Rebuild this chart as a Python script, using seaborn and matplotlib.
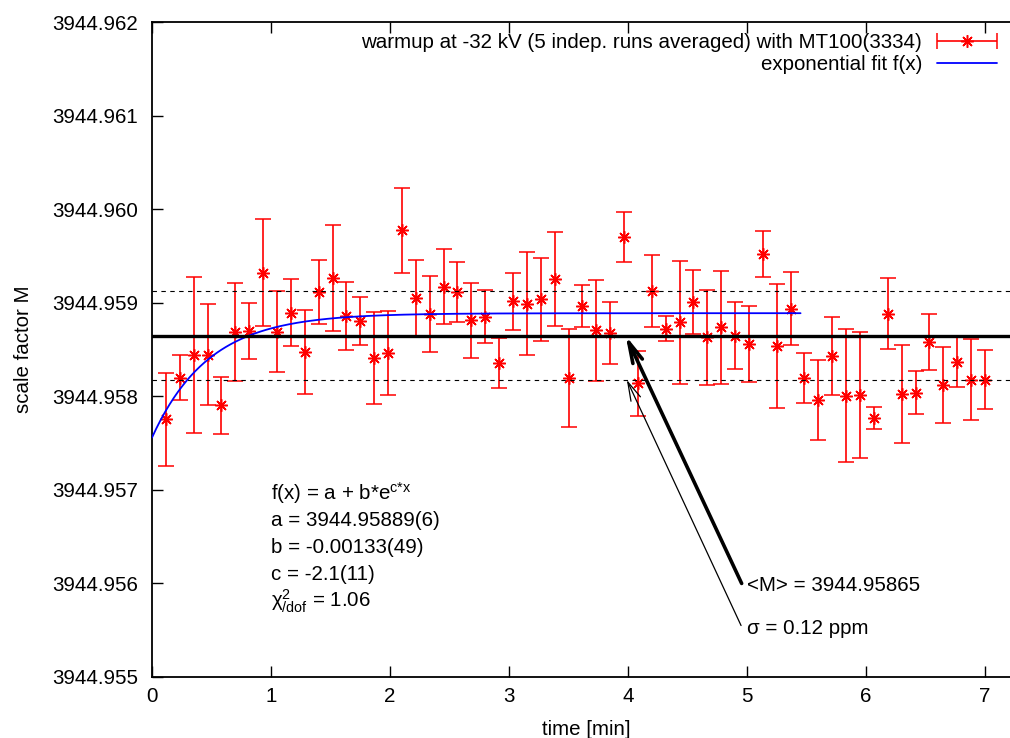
import numpy as np
import matplotlib
matplotlib.use("Agg")
import matplotlib.pyplot as plt
import seaborn as sns
from matplotlib.container import ErrorbarContainer
from matplotlib.legend_handler import HandlerErrorbar
from matplotlib.ticker import FormatStrFormatter, MultipleLocator

# measurement times [min], one point every 7 s
time_min = [0.117, 0.233, 0.350, 0.467, 0.583, 0.700, 0.817, 0.933, 1.050, 1.167,
            1.283, 1.400, 1.517, 1.633, 1.750, 1.867, 1.983, 2.100, 2.217, 2.333,
            2.450, 2.567, 2.683, 2.800, 2.917, 3.033, 3.150, 3.267, 3.383, 3.500,
            3.617, 3.733, 3.850, 3.967, 4.083, 4.200, 4.317, 4.433, 4.550, 4.667,
            4.783, 4.900, 5.017, 5.133, 5.250, 5.367, 5.483, 5.600, 5.717, 5.833,
            5.950, 6.067, 6.183, 6.300, 6.417, 6.533, 6.650, 6.767, 6.883, 7.000]

scale_M = [3944.957754, 3944.958200, 3944.958446, 3944.958446, 3944.957904,
           3944.958693, 3944.958700, 3944.959325, 3944.958693, 3944.958896,
           3944.958475, 3944.959118, 3944.959265, 3944.958861, 3944.958804,
           3944.958414, 3944.958464, 3944.959775, 3944.959051, 3944.958882,
           3944.959175, 3944.959118, 3944.958815, 3944.958853, 3944.958357,
           3944.959019, 3944.958993, 3944.959040, 3944.959254, 3944.958193,
           3944.958968, 3944.958708, 3944.958679, 3944.959708, 3944.958139,
           3944.959129, 3944.958725, 3944.958793, 3944.959008, 3944.958633,
           3944.958740, 3944.958650, 3944.958564, 3944.959522, 3944.958539,
           3944.958936, 3944.958200, 3944.957964, 3944.958432, 3944.958007,
           3944.958017, 3944.957768, 3944.958886, 3944.958025, 3944.958039,
           3944.958585, 3944.958121, 3944.958365, 3944.958178, 3944.958178]

# errors in units of 1e-6
err_M_micro = [493, 240, 832, 543, 305, 523, 295, 567, 436, 359,
               449, 346, 566, 364, 259, 491, 452, 454, 405, 405,
               400, 323, 400, 282, 263, 304, 550, 445, 504, 525,
               224, 540, 327, 268, 347, 386, 130, 659, 341, 507,
               602, 359, 406, 244, 658, 390, 268, 427, 422, 709,
               672, 116, 384, 523, 230, 299, 407, 266, 434, 315]

# fit parameters f(x) = a + b*exp(c*x)
fit_a = 3944.95889
fit_b = -0.00133
fit_c = -2.1
fit_end = 5.45

mean_M = 3944.95865
sigma_ppm = 0.12

data_label = "warmup at -32 kV (5 indep. runs averaged) with MT100(3334)"
fit_label = "exponential fit f(x)"

sns.set_theme(style="ticks")
plt.rcParams["font.family"] = ["Liberation Sans", "DejaVu Sans"]
plt.rcParams["mathtext.fontset"] = "custom"
plt.rcParams["mathtext.rm"] = "Liberation Sans"
plt.rcParams["mathtext.it"] = "Liberation Sans:italic"
plt.rcParams["mathtext.bf"] = "Liberation Sans:bold"
for key in ("text.color", "axes.labelcolor", "xtick.color", "ytick.color",
            "axes.edgecolor"):
    plt.rcParams[key] = "black"

fs = 14.75
fig = plt.figure(figsize=(10.1, 7.38), dpi=100)
ax = fig.add_axes([0.1505, 0.0827, 0.8495, 0.887])

err_M = np.array(err_M_micro) * 1e-6
pts = ax.errorbar(time_min, scale_M, yerr=err_M, linestyle="none",
                  marker=(8, 2, 0), markersize=9, markeredgewidth=1.1,
                  color="red", ecolor="red", elinewidth=1.2, capsize=5.5,
                  capthick=1.2, zorder=2)

fit_x = np.linspace(0, fit_end, 300)
fit_y = fit_a + fit_b * np.exp(fit_c * fit_x)
sns.lineplot(x=fit_x, y=fit_y, color="blue", linewidth=1.3, ax=ax, zorder=3)
fit_line = ax.lines[-1]

sigma = sigma_ppm * 1e-6 * mean_M
ax.axhline(mean_M, color="black", linewidth=2.4, zorder=4)
for s in (-1, 1):
    ax.axhline(mean_M + s * sigma, color="black", linewidth=0.8,
               linestyle=(0, (4, 4)), zorder=4)

ax.set_xlim(0, 7.21)
ax.set_ylim(3944.955, 3944.962)
ax.xaxis.set_major_locator(MultipleLocator(1))
ax.yaxis.set_major_locator(MultipleLocator(0.001))
ax.yaxis.set_major_formatter(FormatStrFormatter("%.3f"))
ax.tick_params(axis="both", direction="in", length=8, width=1.0,
               labelsize=fs, colors="black")
ax.tick_params(axis="x", top=True, pad=7)
ax.tick_params(axis="y", right=False, pad=10)
ax.spines["right"].set_visible(False)
for sp in ("left", "bottom", "top"):
    ax.spines[sp].set_linewidth(1.3)

ax.set_xlabel("time [min]", fontsize=fs)
ax.set_ylabel("scale factor M", fontsize=fs)
ax.xaxis.set_label_coords(0.506, -0.066)
ax.yaxis.set_label_coords(-0.139, 0.5)

# legend in gnuplot style: text right, sample on the right
leg_data = ErrorbarContainer(pts.lines, has_xerr=True, has_yerr=False,
                             label=data_label)
ax.legend(handles=[leg_data, fit_line], labels=[data_label, fit_label],
          loc="upper right", bbox_to_anchor=(0.9845, 0.984), frameon=False,
          markerfirst=False, handlelength=2.9, handletextpad=0.75,
          labelspacing=0.17, borderaxespad=0, borderpad=0, fontsize=fs,
          handler_map={ErrorbarContainer: HandlerErrorbar(xerr_size=1.45)})

# fit result text
fit_lines = ["f(x) = a + b*e$^{\\mathregular{c{*}x}}$",
             "a = 3944.95889(6)",
             "b = -0.00133(49)",
             "c = -2.1(11)",
             "$\\mathregular{\\chi^{2}_{/dof}}$ = 1.06"]
fit_text_y = [3944.956965, 3944.956676, 3944.956388, 3944.956099, 3944.955810]
for txt, ty in zip(fit_lines, fit_text_y):
    ax.text(1.0, ty, txt, fontsize=fs, va="center", ha="left")

# mean and sigma annotations
ax.text(5.0, 3944.95598, f"<M> = {mean_M:.5f}", fontsize=fs, va="center")
ax.text(5.0, 3944.95552, f"\u03c3 = {sigma_ppm} ppm", fontsize=fs, va="center")
ax.annotate("", xy=(3.98, mean_M), xytext=(4.955, 3944.95600),
            arrowprops=dict(arrowstyle="->,head_length=1.0,head_width=0.25",
                            lw=2.6, color="black", mutation_scale=15,
                            shrinkA=0, shrinkB=0))
ax.annotate("", xy=(3.99, mean_M - sigma), xytext=(4.95, 3944.95555),
            arrowprops=dict(arrowstyle="->,head_length=0.9,head_width=0.25",
                            lw=0.9, color="black", mutation_scale=15,
                            shrinkA=0, shrinkB=0))

fig.savefig("out.png", dpi=100)
